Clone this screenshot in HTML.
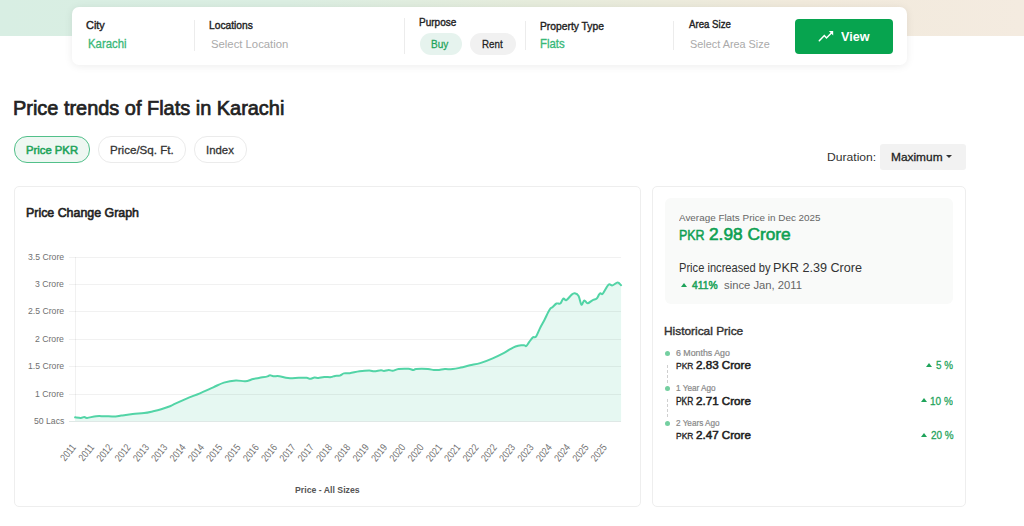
<!DOCTYPE html>
<html><head><meta charset="utf-8">
<style>
*{margin:0;padding:0;box-sizing:border-box}
html,body{width:1024px;height:526px;overflow:hidden;background:#fff;font-family:"Liberation Sans", sans-serif}
.t{position:absolute;white-space:nowrap}
.abs{position:absolute}
</style></head><body>
<div class="abs" style="left:0;top:0;width:1024px;height:36px;background:linear-gradient(90deg,#d8eee3 0%,#dbeee2 28%,#e6ecdc 52%,#f1eadc 78%,#f4ebe0 100%)"></div>
<div class="abs" style="left:72px;top:7px;width:835px;height:58px;background:#fff;border-radius:7px;box-shadow:0 1px 8px rgba(0,0,0,0.08)"></div>
<div class="abs" style="left:194.0px;top:20px;width:1px;height:31px;background:#ececec"></div>
<div class="abs" style="left:404.0px;top:18px;width:1px;height:36px;background:#ececec"></div>
<div class="abs" style="left:525.0px;top:21px;width:1px;height:29px;background:#ececec"></div>
<div class="abs" style="left:673.0px;top:21px;width:1px;height:29px;background:#ececec"></div>
<div class="t" style="left:86.29px;top:19.81px;font-size:11.38px;line-height:11.38px;color:#222;font-weight:400;-webkit-text-stroke:0.40px #222;transform:scaleX(0.9599);transform-origin:0 0;">City</div>
<div class="t" style="left:88.11px;top:38.53px;font-size:11.95px;line-height:11.95px;color:#38b878;font-weight:400;-webkit-text-stroke:0.30px #38b878;transform:scaleX(0.9538);transform-origin:0 0;">Karachi</div>
<div class="t" style="left:209.20px;top:19.95px;font-size:11.10px;line-height:11.10px;color:#222;font-weight:400;-webkit-text-stroke:0.39px #222;transform:scaleX(0.9226);transform-origin:0 0;">Locations</div>
<div class="t" style="left:211.05px;top:38.17px;font-size:11.66px;line-height:11.66px;color:#aaa;font-weight:400;transform:scaleX(0.9703);transform-origin:0 0;">Select Location</div>
<div class="t" style="left:419.02px;top:16.88px;font-size:11.24px;line-height:11.24px;color:#222;font-weight:400;-webkit-text-stroke:0.39px #222;transform:scaleX(0.8933);transform-origin:0 0;">Purpose</div>
<div class="abs" style="left:419.5px;top:33px;width:42px;height:22px;border-radius:11px;background:#e6f3ee"></div>
<div class="abs" style="left:470px;top:33px;width:46px;height:22px;border-radius:11px;background:#f1f1f1"></div>
<div class="t" style="left:431.22px;top:38.17px;font-size:11.66px;line-height:11.66px;color:#1ea35a;font-weight:400;-webkit-text-stroke:0.29px #1ea35a;transform:scaleX(0.8599);transform-origin:0 0;">Buy</div>
<div class="t" style="left:481.94px;top:38.17px;font-size:11.66px;line-height:11.66px;color:#222;font-weight:400;-webkit-text-stroke:0.29px #222;transform:scaleX(0.8373);transform-origin:0 0;">Rent</div>
<div class="t" style="left:540.00px;top:20.17px;font-size:11.66px;line-height:11.66px;color:#222;font-weight:400;-webkit-text-stroke:0.41px #222;transform:scaleX(0.8831);transform-origin:0 0;">Property Type</div>
<div class="t" style="left:540.11px;top:38.53px;font-size:11.95px;line-height:11.95px;color:#38b878;font-weight:400;-webkit-text-stroke:0.30px #38b878;transform:scaleX(0.9558);transform-origin:0 0;">Flats</div>
<div class="t" style="left:688.80px;top:18.95px;font-size:11.10px;line-height:11.10px;color:#222;font-weight:400;-webkit-text-stroke:0.39px #222;transform:scaleX(0.8709);transform-origin:0 0;">Area Size</div>
<div class="t" style="left:690.36px;top:38.81px;font-size:11.38px;line-height:11.38px;color:#aaa;font-weight:400;transform:scaleX(0.9555);transform-origin:0 0;">Select Area Size</div>
<div class="abs" style="left:795px;top:19px;width:98px;height:35px;border-radius:4px;background:#07a44f"></div>
<svg class="abs" style="left:812px;top:24px" width="30" height="24" viewBox="0 0 30 24"><polyline points="7.3,16.7 12.3,11.5 14.5,14 19.4,9" fill="none" stroke="#fff" stroke-width="1.5" stroke-linecap="round" stroke-linejoin="miter"/><path d="M16.9,7.1 L21.2,7.1 L21.2,11.4 Z" fill="#fff"/></svg>
<div class="t" style="left:841.00px;top:30.53px;font-size:12.94px;line-height:12.94px;color:#fff;font-weight:700;transform:scaleX(0.9724);transform-origin:0 0;">View</div>
<div class="t" style="left:12.94px;top:97.54px;font-size:20.91px;line-height:20.91px;color:#222;font-weight:400;-webkit-text-stroke:0.73px #222;transform:scaleX(0.9531);transform-origin:0 0;">Price trends of Flats in Karachi</div>
<div class="abs" style="left:14px;top:136px;width:75.5px;height:26.5px;border-radius:13px;background:#eef7f2;border:1px solid #52c08a"></div>
<div class="abs" style="left:98px;top:136px;width:87.5px;height:26.5px;border-radius:13px;background:#fff;border:1px solid #ebebeb"></div>
<div class="abs" style="left:194px;top:136px;width:53px;height:26.5px;border-radius:13px;background:#fff;border:1px solid #ebebeb"></div>
<div class="t" style="left:25.62px;top:144.74px;font-size:11.52px;line-height:11.52px;color:#1ea35a;font-weight:400;-webkit-text-stroke:0.55px #1ea35a;transform:scaleX(0.9799);transform-origin:0 0;">Price PKR</div>
<div class="t" style="left:110.29px;top:144.60px;font-size:11.81px;line-height:11.81px;color:#333;font-weight:400;-webkit-text-stroke:0.30px #333;transform:scaleX(0.9815);transform-origin:0 0;">Price/Sq. Ft.</div>
<div class="t" style="left:206.11px;top:144.60px;font-size:11.81px;line-height:11.81px;color:#333;font-weight:400;-webkit-text-stroke:0.30px #333;transform:scaleX(0.9657);transform-origin:0 0;">Index</div>
<div class="t" style="left:826.85px;top:151.95px;font-size:11.10px;line-height:11.10px;color:#333;font-weight:400;transform:scaleX(1.0938);transform-origin:0 0;">Duration:</div>
<div class="abs" style="left:880px;top:143.5px;width:86px;height:26px;border-radius:3px;background:#f2f2f2"></div>
<div class="t" style="left:890.97px;top:151.95px;font-size:11.10px;line-height:11.10px;color:#222;font-weight:400;-webkit-text-stroke:0.28px #222;transform:scaleX(1.0720);transform-origin:0 0;">Maximum</div>
<div class="abs" style="left:946px;top:155px;width:0;height:0;border-left:3px solid transparent;border-right:3px solid transparent;border-top:3px solid #333"></div>
<div class="abs" style="left:14px;top:186px;width:627px;height:321px;border-radius:5px;border:1px solid #eeeeee;background:#fff"></div>
<div class="t" style="left:25.73px;top:206.17px;font-size:13.66px;line-height:13.66px;color:#222;font-weight:400;-webkit-text-stroke:0.66px #222;transform:scaleX(0.9074);transform-origin:0 0;">Price Change Graph</div>
<div class="abs" style="left:652px;top:186px;width:314px;height:321px;border-radius:5px;border:1px solid #eeeeee;background:#fff"></div>
<div class="abs" style="left:665px;top:198px;width:288px;height:106px;border-radius:6px;background:#f9faf9"></div>
<svg class="abs" style="left:0;top:0" width="1024" height="526" viewBox="0 0 1024 526"><line x1="75.5" y1="257" x2="75.5" y2="422" stroke="#f1f1f1" stroke-width="1"/><path d="M75.10,417.30 C76.05,417.40 79.27,417.95 80.80,417.90 C82.33,417.85 83.25,417.00 84.30,417.00 C85.35,417.00 85.12,418.03 87.10,417.90 C89.08,417.77 93.35,416.48 96.20,416.20 C99.05,415.92 100.97,416.15 104.20,416.20 C107.43,416.25 112.75,416.60 115.60,416.50 C118.45,416.40 118.45,416.03 121.30,415.60 C124.15,415.17 128.90,414.32 132.70,413.90 C136.50,413.48 140.68,413.53 144.10,413.10 C147.52,412.67 150.35,411.93 153.20,411.30 C156.05,410.67 158.40,410.13 161.20,409.30 C164.00,408.47 167.98,407.08 170.00,406.30 C172.02,405.52 170.53,405.88 173.30,404.60 C176.07,403.32 182.17,400.48 186.60,398.60 C191.03,396.72 195.45,395.18 199.90,393.30 C204.35,391.42 209.30,389.08 213.30,387.30 C217.30,385.52 220.13,383.75 223.90,382.60 C227.67,381.45 232.35,380.62 235.90,380.40 C239.45,380.18 242.32,381.53 245.20,381.30 C248.08,381.07 250.77,379.58 253.20,379.00 C255.63,378.42 257.40,378.23 259.80,377.80 C262.20,377.37 265.90,376.83 267.60,376.40 C269.30,375.97 269.03,375.23 270.00,375.20 C270.97,375.17 271.85,376.03 273.40,376.20 C274.95,376.37 276.85,375.88 279.30,376.20 C281.75,376.52 284.85,377.83 288.10,378.10 C291.35,378.37 295.72,377.85 298.80,377.80 C301.88,377.75 304.73,377.63 306.60,377.80 C308.47,377.97 308.68,378.83 310.00,378.80 C311.32,378.77 313.10,377.73 314.50,377.60 C315.90,377.47 316.78,378.12 318.40,378.00 C320.02,377.88 322.10,377.05 324.20,376.90 C326.30,376.75 329.20,377.27 331.00,377.10 C332.80,376.93 333.53,376.15 335.00,375.90 C336.47,375.65 338.32,376.02 339.80,375.60 C341.28,375.18 342.23,373.80 343.90,373.40 C345.57,373.00 347.20,373.55 349.80,373.20 C352.40,372.85 356.25,371.75 359.50,371.30 C362.75,370.85 366.85,370.50 369.30,370.50 C371.75,370.50 372.25,371.33 374.20,371.30 C376.15,371.27 379.37,370.35 381.00,370.30 C382.63,370.25 382.70,371.05 384.00,371.00 C385.30,370.95 387.35,370.03 388.80,370.00 C390.25,369.97 391.07,370.97 392.70,370.80 C394.33,370.63 395.98,369.33 398.60,369.00 C401.22,368.67 405.97,368.63 408.40,368.80 C410.83,368.97 411.90,369.97 413.20,370.00 C414.50,370.03 413.75,369.17 416.20,369.00 C418.65,368.83 424.97,368.83 427.90,369.00 C430.83,369.17 431.93,369.85 433.80,370.00 C435.67,370.15 437.27,370.05 439.10,369.90 C440.93,369.75 442.52,369.23 444.80,369.10 C447.08,368.97 450.13,369.35 452.80,369.10 C455.47,368.85 457.95,368.23 460.80,367.60 C463.65,366.97 466.67,366.05 469.90,365.30 C473.13,364.55 476.40,364.27 480.20,363.10 C484.00,361.93 488.72,360.02 492.70,358.30 C496.68,356.58 501.25,354.28 504.10,352.80 C506.95,351.32 507.90,350.45 509.80,349.40 C511.70,348.35 513.60,347.20 515.50,346.50 C517.40,345.80 519.68,345.38 521.20,345.20 C522.72,345.02 523.75,345.27 524.60,345.40 C525.45,345.53 525.55,346.53 526.30,346.00 C527.05,345.47 528.00,343.63 529.10,342.20 C530.20,340.77 531.75,338.33 532.90,337.40 C534.05,336.47 534.85,338.07 536.00,336.60 C537.15,335.13 538.42,331.33 539.80,328.60 C541.18,325.87 542.65,323.38 544.30,320.20 C545.95,317.02 548.30,311.70 549.70,309.50 C551.10,307.30 551.57,308.00 552.70,307.00 C553.83,306.00 555.23,304.08 556.50,303.50 C557.77,302.92 559.17,304.32 560.30,303.50 C561.43,302.68 562.28,299.17 563.30,298.60 C564.32,298.03 565.00,300.77 566.40,300.10 C567.80,299.43 570.30,295.73 571.70,294.60 C573.10,293.47 573.65,293.08 574.80,293.30 C575.95,293.52 577.50,294.00 578.60,295.90 C579.70,297.80 580.45,303.95 581.40,304.70 C582.35,305.45 583.27,300.63 584.30,300.40 C585.33,300.17 586.25,303.32 587.60,303.30 C588.95,303.28 590.88,301.10 592.40,300.30 C593.92,299.50 595.60,299.43 596.70,298.50 C597.80,297.57 598.37,295.57 599.00,294.70 C599.63,293.83 599.87,293.48 600.50,293.30 C601.13,293.12 601.47,295.03 602.80,293.60 C604.13,292.17 606.90,286.07 608.50,284.70 C610.10,283.33 610.88,285.78 612.40,285.40 C613.92,285.02 616.15,282.43 617.60,282.40 C619.05,282.37 620.52,284.73 621.10,285.20 L621.1,422 L75.1,422 Z" fill="#e6f8f2"/><line x1="69" y1="257.5" x2="621" y2="257.5" stroke="#000" stroke-opacity="0.055" stroke-width="1"/><line x1="69" y1="284.5" x2="621" y2="284.5" stroke="#000" stroke-opacity="0.055" stroke-width="1"/><line x1="69" y1="311.5" x2="621" y2="311.5" stroke="#000" stroke-opacity="0.055" stroke-width="1"/><line x1="69" y1="339.5" x2="621" y2="339.5" stroke="#000" stroke-opacity="0.055" stroke-width="1"/><line x1="69" y1="366.5" x2="621" y2="366.5" stroke="#000" stroke-opacity="0.055" stroke-width="1"/><line x1="69" y1="394.5" x2="621" y2="394.5" stroke="#000" stroke-opacity="0.055" stroke-width="1"/><path d="M75.10,417.30 C76.05,417.40 79.27,417.95 80.80,417.90 C82.33,417.85 83.25,417.00 84.30,417.00 C85.35,417.00 85.12,418.03 87.10,417.90 C89.08,417.77 93.35,416.48 96.20,416.20 C99.05,415.92 100.97,416.15 104.20,416.20 C107.43,416.25 112.75,416.60 115.60,416.50 C118.45,416.40 118.45,416.03 121.30,415.60 C124.15,415.17 128.90,414.32 132.70,413.90 C136.50,413.48 140.68,413.53 144.10,413.10 C147.52,412.67 150.35,411.93 153.20,411.30 C156.05,410.67 158.40,410.13 161.20,409.30 C164.00,408.47 167.98,407.08 170.00,406.30 C172.02,405.52 170.53,405.88 173.30,404.60 C176.07,403.32 182.17,400.48 186.60,398.60 C191.03,396.72 195.45,395.18 199.90,393.30 C204.35,391.42 209.30,389.08 213.30,387.30 C217.30,385.52 220.13,383.75 223.90,382.60 C227.67,381.45 232.35,380.62 235.90,380.40 C239.45,380.18 242.32,381.53 245.20,381.30 C248.08,381.07 250.77,379.58 253.20,379.00 C255.63,378.42 257.40,378.23 259.80,377.80 C262.20,377.37 265.90,376.83 267.60,376.40 C269.30,375.97 269.03,375.23 270.00,375.20 C270.97,375.17 271.85,376.03 273.40,376.20 C274.95,376.37 276.85,375.88 279.30,376.20 C281.75,376.52 284.85,377.83 288.10,378.10 C291.35,378.37 295.72,377.85 298.80,377.80 C301.88,377.75 304.73,377.63 306.60,377.80 C308.47,377.97 308.68,378.83 310.00,378.80 C311.32,378.77 313.10,377.73 314.50,377.60 C315.90,377.47 316.78,378.12 318.40,378.00 C320.02,377.88 322.10,377.05 324.20,376.90 C326.30,376.75 329.20,377.27 331.00,377.10 C332.80,376.93 333.53,376.15 335.00,375.90 C336.47,375.65 338.32,376.02 339.80,375.60 C341.28,375.18 342.23,373.80 343.90,373.40 C345.57,373.00 347.20,373.55 349.80,373.20 C352.40,372.85 356.25,371.75 359.50,371.30 C362.75,370.85 366.85,370.50 369.30,370.50 C371.75,370.50 372.25,371.33 374.20,371.30 C376.15,371.27 379.37,370.35 381.00,370.30 C382.63,370.25 382.70,371.05 384.00,371.00 C385.30,370.95 387.35,370.03 388.80,370.00 C390.25,369.97 391.07,370.97 392.70,370.80 C394.33,370.63 395.98,369.33 398.60,369.00 C401.22,368.67 405.97,368.63 408.40,368.80 C410.83,368.97 411.90,369.97 413.20,370.00 C414.50,370.03 413.75,369.17 416.20,369.00 C418.65,368.83 424.97,368.83 427.90,369.00 C430.83,369.17 431.93,369.85 433.80,370.00 C435.67,370.15 437.27,370.05 439.10,369.90 C440.93,369.75 442.52,369.23 444.80,369.10 C447.08,368.97 450.13,369.35 452.80,369.10 C455.47,368.85 457.95,368.23 460.80,367.60 C463.65,366.97 466.67,366.05 469.90,365.30 C473.13,364.55 476.40,364.27 480.20,363.10 C484.00,361.93 488.72,360.02 492.70,358.30 C496.68,356.58 501.25,354.28 504.10,352.80 C506.95,351.32 507.90,350.45 509.80,349.40 C511.70,348.35 513.60,347.20 515.50,346.50 C517.40,345.80 519.68,345.38 521.20,345.20 C522.72,345.02 523.75,345.27 524.60,345.40 C525.45,345.53 525.55,346.53 526.30,346.00 C527.05,345.47 528.00,343.63 529.10,342.20 C530.20,340.77 531.75,338.33 532.90,337.40 C534.05,336.47 534.85,338.07 536.00,336.60 C537.15,335.13 538.42,331.33 539.80,328.60 C541.18,325.87 542.65,323.38 544.30,320.20 C545.95,317.02 548.30,311.70 549.70,309.50 C551.10,307.30 551.57,308.00 552.70,307.00 C553.83,306.00 555.23,304.08 556.50,303.50 C557.77,302.92 559.17,304.32 560.30,303.50 C561.43,302.68 562.28,299.17 563.30,298.60 C564.32,298.03 565.00,300.77 566.40,300.10 C567.80,299.43 570.30,295.73 571.70,294.60 C573.10,293.47 573.65,293.08 574.80,293.30 C575.95,293.52 577.50,294.00 578.60,295.90 C579.70,297.80 580.45,303.95 581.40,304.70 C582.35,305.45 583.27,300.63 584.30,300.40 C585.33,300.17 586.25,303.32 587.60,303.30 C588.95,303.28 590.88,301.10 592.40,300.30 C593.92,299.50 595.60,299.43 596.70,298.50 C597.80,297.57 598.37,295.57 599.00,294.70 C599.63,293.83 599.87,293.48 600.50,293.30 C601.13,293.12 601.47,295.03 602.80,293.60 C604.13,292.17 606.90,286.07 608.50,284.70 C610.10,283.33 610.88,285.78 612.40,285.40 C613.92,285.02 616.15,282.43 617.60,282.40 C619.05,282.37 620.52,284.73 621.10,285.20" fill="none" stroke="#52d4a6" stroke-width="2" stroke-linejoin="round" stroke-linecap="round"/><text x="0" y="0" text-anchor="end" transform="translate(76.4 447.6) rotate(-51) scale(0.82 1)" font-family="Liberation Sans" font-size="10.3" fill="#707070">2011</text><text x="0" y="0" text-anchor="end" transform="translate(94.7 447.6) rotate(-51) scale(0.82 1)" font-family="Liberation Sans" font-size="10.3" fill="#707070">2011</text><text x="0" y="0" text-anchor="end" transform="translate(113.0 447.6) rotate(-51) scale(0.82 1)" font-family="Liberation Sans" font-size="10.3" fill="#707070">2012</text><text x="0" y="0" text-anchor="end" transform="translate(131.3 447.6) rotate(-51) scale(0.82 1)" font-family="Liberation Sans" font-size="10.3" fill="#707070">2012</text><text x="0" y="0" text-anchor="end" transform="translate(149.6 447.6) rotate(-51) scale(0.82 1)" font-family="Liberation Sans" font-size="10.3" fill="#707070">2013</text><text x="0" y="0" text-anchor="end" transform="translate(167.9 447.6) rotate(-51) scale(0.82 1)" font-family="Liberation Sans" font-size="10.3" fill="#707070">2013</text><text x="0" y="0" text-anchor="end" transform="translate(186.3 447.6) rotate(-51) scale(0.82 1)" font-family="Liberation Sans" font-size="10.3" fill="#707070">2014</text><text x="0" y="0" text-anchor="end" transform="translate(204.6 447.6) rotate(-51) scale(0.82 1)" font-family="Liberation Sans" font-size="10.3" fill="#707070">2014</text><text x="0" y="0" text-anchor="end" transform="translate(222.9 447.6) rotate(-51) scale(0.82 1)" font-family="Liberation Sans" font-size="10.3" fill="#707070">2015</text><text x="0" y="0" text-anchor="end" transform="translate(241.2 447.6) rotate(-51) scale(0.82 1)" font-family="Liberation Sans" font-size="10.3" fill="#707070">2015</text><text x="0" y="0" text-anchor="end" transform="translate(259.5 447.6) rotate(-51) scale(0.82 1)" font-family="Liberation Sans" font-size="10.3" fill="#707070">2016</text><text x="0" y="0" text-anchor="end" transform="translate(277.8 447.6) rotate(-51) scale(0.82 1)" font-family="Liberation Sans" font-size="10.3" fill="#707070">2016</text><text x="0" y="0" text-anchor="end" transform="translate(296.1 447.6) rotate(-51) scale(0.82 1)" font-family="Liberation Sans" font-size="10.3" fill="#707070">2017</text><text x="0" y="0" text-anchor="end" transform="translate(314.4 447.6) rotate(-51) scale(0.82 1)" font-family="Liberation Sans" font-size="10.3" fill="#707070">2017</text><text x="0" y="0" text-anchor="end" transform="translate(332.7 447.6) rotate(-51) scale(0.82 1)" font-family="Liberation Sans" font-size="10.3" fill="#707070">2018</text><text x="0" y="0" text-anchor="end" transform="translate(351.0 447.6) rotate(-51) scale(0.82 1)" font-family="Liberation Sans" font-size="10.3" fill="#707070">2018</text><text x="0" y="0" text-anchor="end" transform="translate(369.4 447.6) rotate(-51) scale(0.82 1)" font-family="Liberation Sans" font-size="10.3" fill="#707070">2019</text><text x="0" y="0" text-anchor="end" transform="translate(387.7 447.6) rotate(-51) scale(0.82 1)" font-family="Liberation Sans" font-size="10.3" fill="#707070">2019</text><text x="0" y="0" text-anchor="end" transform="translate(406.0 447.6) rotate(-51) scale(0.82 1)" font-family="Liberation Sans" font-size="10.3" fill="#707070">2020</text><text x="0" y="0" text-anchor="end" transform="translate(424.3 447.6) rotate(-51) scale(0.82 1)" font-family="Liberation Sans" font-size="10.3" fill="#707070">2020</text><text x="0" y="0" text-anchor="end" transform="translate(442.6 447.6) rotate(-51) scale(0.82 1)" font-family="Liberation Sans" font-size="10.3" fill="#707070">2021</text><text x="0" y="0" text-anchor="end" transform="translate(460.9 447.6) rotate(-51) scale(0.82 1)" font-family="Liberation Sans" font-size="10.3" fill="#707070">2021</text><text x="0" y="0" text-anchor="end" transform="translate(479.2 447.6) rotate(-51) scale(0.82 1)" font-family="Liberation Sans" font-size="10.3" fill="#707070">2022</text><text x="0" y="0" text-anchor="end" transform="translate(497.5 447.6) rotate(-51) scale(0.82 1)" font-family="Liberation Sans" font-size="10.3" fill="#707070">2022</text><text x="0" y="0" text-anchor="end" transform="translate(515.8 447.6) rotate(-51) scale(0.82 1)" font-family="Liberation Sans" font-size="10.3" fill="#707070">2023</text><text x="0" y="0" text-anchor="end" transform="translate(534.1 447.6) rotate(-51) scale(0.82 1)" font-family="Liberation Sans" font-size="10.3" fill="#707070">2023</text><text x="0" y="0" text-anchor="end" transform="translate(552.5 447.6) rotate(-51) scale(0.82 1)" font-family="Liberation Sans" font-size="10.3" fill="#707070">2024</text><text x="0" y="0" text-anchor="end" transform="translate(570.8 447.6) rotate(-51) scale(0.82 1)" font-family="Liberation Sans" font-size="10.3" fill="#707070">2024</text><text x="0" y="0" text-anchor="end" transform="translate(589.1 447.6) rotate(-51) scale(0.82 1)" font-family="Liberation Sans" font-size="10.3" fill="#707070">2025</text><text x="0" y="0" text-anchor="end" transform="translate(607.4 447.6) rotate(-51) scale(0.82 1)" font-family="Liberation Sans" font-size="10.3" fill="#707070">2025</text><line x1="69" y1="421.5" x2="621" y2="421.5" stroke="#dfe8e6" stroke-width="1"/></svg>
<div class="t" style="left:28.24px;top:252.02px;font-size:9.96px;line-height:9.96px;color:#707070;font-weight:400;transform:scaleX(0.8700);transform-origin:0 0;">3.5 Crore</div>
<div class="t" style="left:35.46px;top:279.02px;font-size:9.96px;line-height:9.96px;color:#707070;font-weight:400;transform:scaleX(0.8700);transform-origin:0 0;">3 Crore</div>
<div class="t" style="left:28.24px;top:306.02px;font-size:9.96px;line-height:9.96px;color:#707070;font-weight:400;transform:scaleX(0.8700);transform-origin:0 0;">2.5 Crore</div>
<div class="t" style="left:35.46px;top:334.02px;font-size:9.96px;line-height:9.96px;color:#707070;font-weight:400;transform:scaleX(0.8700);transform-origin:0 0;">2 Crore</div>
<div class="t" style="left:28.24px;top:361.02px;font-size:9.96px;line-height:9.96px;color:#707070;font-weight:400;transform:scaleX(0.8700);transform-origin:0 0;">1.5 Crore</div>
<div class="t" style="left:35.46px;top:389.02px;font-size:9.96px;line-height:9.96px;color:#707070;font-weight:400;transform:scaleX(0.8700);transform-origin:0 0;">1 Crore</div>
<div class="t" style="left:33.93px;top:416.02px;font-size:9.96px;line-height:9.96px;color:#707070;font-weight:400;transform:scaleX(0.8700);transform-origin:0 0;">50 Lacs</div>
<div class="t" style="left:294.55px;top:485.23px;font-size:9.53px;line-height:9.53px;color:#555;font-weight:700;transform:scaleX(0.9171);transform-origin:0 0;">Price - All Sizes</div>
<div class="t" style="left:679.30px;top:213.16px;font-size:9.67px;line-height:9.67px;color:#666;font-weight:400;transform:scaleX(1.0236);transform-origin:0 0;">Average Flats Price in Dec 2025</div>
<div class="t" style="left:678.83px;top:229.10px;font-size:13.80px;line-height:13.80px;color:#0ea052;font-weight:400;-webkit-text-stroke:0.48px #0ea052;transform:scaleX(0.9025);transform-origin:0 0;">PKR</div>
<div class="t" style="left:708.99px;top:226.47px;font-size:17.07px;line-height:17.07px;color:#0ea052;font-weight:400;-webkit-text-stroke:0.60px #0ea052;transform:scaleX(1.0132);transform-origin:0 0;">2.98 Crore</div>
<div class="t" style="left:678.93px;top:262.53px;font-size:11.95px;line-height:11.95px;color:#333;font-weight:400;transform:scaleX(0.9316);transform-origin:0 0;">Price increased by</div>
<div class="t" style="left:773.31px;top:261.46px;font-size:13.09px;line-height:13.09px;color:#333;font-weight:400;transform:scaleX(0.9645);transform-origin:0 0;">PKR 2.39 Crore</div>
<div class="abs" style="left:681px;top:282.5px;width:0;height:0;border-left:3px solid transparent;border-right:3px solid transparent;border-bottom:4px solid #1ea35a"></div>
<div class="t" style="left:691.64px;top:280.09px;font-size:10.81px;line-height:10.81px;color:#1ea35a;font-weight:400;-webkit-text-stroke:0.52px #1ea35a;transform:scaleX(0.9523);transform-origin:0 0;">411%</div>
<div class="t" style="left:724.22px;top:279.81px;font-size:11.38px;line-height:11.38px;color:#666;font-weight:400;transform:scaleX(0.9894);transform-origin:0 0;">since Jan, 2011</div>
<div class="t" style="left:663.97px;top:325.88px;font-size:11.24px;line-height:11.24px;color:#333;font-weight:400;-webkit-text-stroke:0.39px #333;transform:scaleX(1.0571);transform-origin:0 0;">Historical Price</div>
<div class="abs" style="left:664.8px;top:351.2px;width:5px;height:5px;border-radius:50%;background:#74cfa0"></div>
<div class="abs" style="left:667px;top:364.7px;width:0;height:18px;border-left:1px dashed #cfcfcf"></div>
<div class="t" style="left:675.69px;top:349.30px;font-size:8.39px;line-height:8.39px;color:#8a8a8a;font-weight:400;-webkit-text-stroke:0.21px #8a8a8a;transform:scaleX(1.0519);transform-origin:0 0;">6 Months Ago</div>
<div class="t" style="left:675.74px;top:361.09px;font-size:9.82px;line-height:9.82px;color:#222;font-weight:400;-webkit-text-stroke:0.34px #222;transform:scaleX(0.8598);transform-origin:0 0;">PKR</div>
<div class="t" style="left:695.56px;top:360.81px;font-size:10.38px;line-height:10.38px;color:#222;font-weight:400;-webkit-text-stroke:0.50px #222;transform:scaleX(1.1193);transform-origin:0 0;">2.83 Crore</div>
<div class="abs" style="left:926.0px;top:362.9px;width:0;height:0;border-left:3px solid transparent;border-right:3px solid transparent;border-bottom:4px solid #1ea35a"></div>
<div class="t" style="left:936.19px;top:359.81px;font-size:11.38px;line-height:11.38px;color:#1ea35a;font-weight:400;-webkit-text-stroke:0.28px #1ea35a;transform:scaleX(0.8671);transform-origin:0 0;">5 %</div>
<div class="abs" style="left:664.8px;top:385.9px;width:5px;height:5px;border-radius:50%;background:#74cfa0"></div>
<div class="abs" style="left:667px;top:399.4px;width:0;height:18px;border-left:1px dashed #cfcfcf"></div>
<div class="t" style="left:676.09px;top:384.16px;font-size:8.68px;line-height:8.68px;color:#8a8a8a;font-weight:400;-webkit-text-stroke:0.22px #8a8a8a;transform:scaleX(0.9443);transform-origin:0 0;">1 Year Ago</div>
<div class="t" style="left:675.74px;top:396.88px;font-size:10.24px;line-height:10.24px;color:#222;font-weight:400;-webkit-text-stroke:0.36px #222;transform:scaleX(0.8240);transform-origin:0 0;">PKR</div>
<div class="t" style="left:695.56px;top:396.09px;font-size:10.81px;line-height:10.81px;color:#222;font-weight:400;-webkit-text-stroke:0.52px #222;transform:scaleX(1.0752);transform-origin:0 0;">2.71 Crore</div>
<div class="abs" style="left:920.5px;top:398.1px;width:0;height:0;border-left:3px solid transparent;border-right:3px solid transparent;border-bottom:4px solid #1ea35a"></div>
<div class="t" style="left:930.37px;top:395.81px;font-size:11.38px;line-height:11.38px;color:#1ea35a;font-weight:400;-webkit-text-stroke:0.28px #1ea35a;transform:scaleX(0.8800);transform-origin:0 0;">10 %</div>
<div class="abs" style="left:664.8px;top:420.7px;width:5px;height:5px;border-radius:50%;background:#74cfa0"></div>
<div class="t" style="left:676.22px;top:419.09px;font-size:8.82px;line-height:8.82px;color:#8a8a8a;font-weight:400;-webkit-text-stroke:0.22px #8a8a8a;transform:scaleX(0.9264);transform-origin:0 0;">2 Years Ago</div>
<div class="t" style="left:675.74px;top:431.02px;font-size:9.96px;line-height:9.96px;color:#222;font-weight:400;-webkit-text-stroke:0.35px #222;transform:scaleX(0.8475);transform-origin:0 0;">PKR</div>
<div class="t" style="left:695.56px;top:430.24px;font-size:10.53px;line-height:10.53px;color:#222;font-weight:400;-webkit-text-stroke:0.51px #222;transform:scaleX(1.1042);transform-origin:0 0;">2.47 Crore</div>
<div class="abs" style="left:920.5px;top:432.8px;width:0;height:0;border-left:3px solid transparent;border-right:3px solid transparent;border-bottom:4px solid #1ea35a"></div>
<div class="t" style="left:930.53px;top:429.81px;font-size:11.38px;line-height:11.38px;color:#1ea35a;font-weight:400;-webkit-text-stroke:0.28px #1ea35a;transform:scaleX(0.8737);transform-origin:0 0;">20 %</div>
</body></html>
